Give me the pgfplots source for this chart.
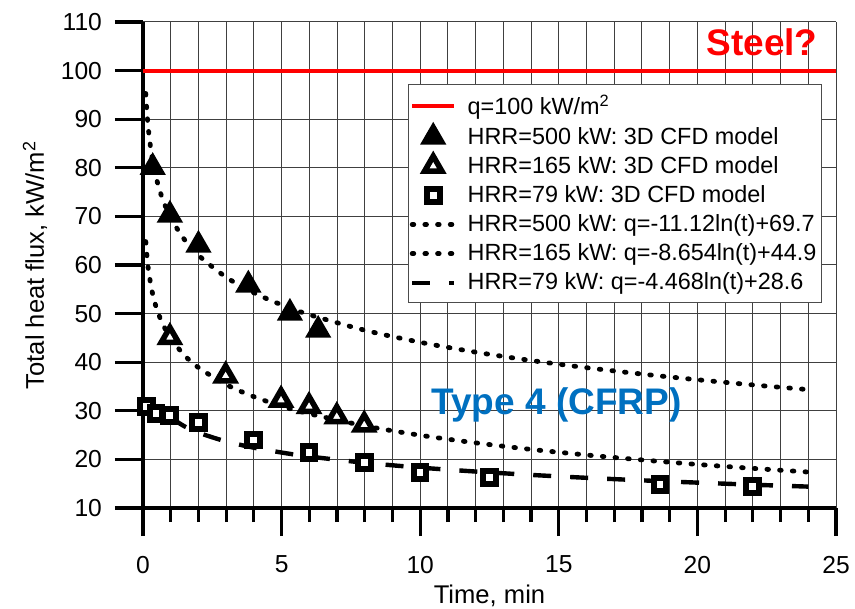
\documentclass[border=0pt]{standalone}
\usepackage{fontspec}
\setmainfont{Liberation Sans}
\usepackage{pgfplots}
\pgfplotsset{compat=1.18}
\definecolor{typeblue}{HTML}{0070C0}
\begin{document}
\begin{tikzpicture}
\useasboundingbox (-71.5pt,-50.5pt) rectangle (356pt,254pt);
\begin{axis}[
  scale only axis, width=346.5pt, height=243pt,
  xmin=0, xmax=25, ymin=10, ymax=110,
  enlargelimits=false,
  axis lines=left,
  axis line style={-, line width=1.6pt, black},
  xtick={0,5,...,25}, ytick={10,20,...,110},
  minor x tick num=4,
  grid=both,
  major grid style={black!75, line width=0.5pt},
  minor grid style={black!75, line width=0.5pt},
  tick align=outside,
  major tick length=14pt, minor tick length=7pt,
  every tick/.style={black, line width=1.6pt},
  /pgf/number format/assume math mode=true,
  tick label style={font=\fontsize{12.3}{14}\selectfont},
  yticklabel style={xshift=-3pt},
  xticklabel style={yshift=-6.5pt},
  xlabel={Time, min},
  ylabel={Total heat flux, kW/m\textsuperscript{2}},
  label style={font=\fontsize{12.8}{15}\selectfont},
  xlabel style={at={(axis description cs:0.5,0)}, anchor=center, yshift=-44pt},
  ylabel style={at={(axis description cs:0,0.5)}, anchor=center, yshift=54pt},
  legend style={at={(rel axis cs:0.9798,0.872)}, anchor=north east,
    draw=black!70, line width=0.5pt, fill=white,
    font=\fontsize{11.7}{13}\selectfont,
    row sep=0.6pt, inner xsep=0.5pt, inner ysep=3pt,
    /tikz/every odd column/.append style={column sep=3.5pt}},
  legend cell align=left,
  legend image code/.code={\draw[mark repeat=2,mark phase=2,#1] plot coordinates {(0cm,0cm) (0.37cm,0cm) (0.74cm,0cm)};},
  clip=false,
]
% legend images
\addlegendimage{red, line width=2pt}
\addlegendentry{q=100 kW/m\textsuperscript{2}}
\addlegendimage{only marks, mark=triangle*, mark size=6.8pt, black, line width=0.8pt, mark options={fill=black, line width=0.8pt}}
\addlegendentry{HRR=500 kW: 3D CFD model}
\addlegendimage{only marks, mark=triangle*, mark size=5pt, black, line width=2.8pt, mark options={fill=white, line width=2.8pt}}
\addlegendentry{HRR=165 kW: 3D CFD model}
\addlegendimage{only marks, mark=square*, mark size=3.2pt, black, line width=3pt, mark options={fill=white, line width=3pt}}
\addlegendentry{HRR=79 kW: 3D CFD model}
\addlegendimage{black, line width=2.4pt, line cap=round, dash pattern=on 0.8pt off 5.55pt}
\addlegendentry{HRR=500 kW: q=-11.12ln(t)+69.7}
\addlegendimage{black, line width=2.4pt, line cap=round, dash pattern=on 0.8pt off 5.55pt}
\addlegendentry{HRR=165 kW: q=-8.654ln(t)+44.9}
\addlegendimage{black, line width=2.2pt, dash pattern=on 9pt off 9.5pt}
\addlegendentry{HRR=79 kW: q=-4.468ln(t)+28.6}

% red line
\addplot[red, line width=2pt, forget plot] coordinates {(0,100) (25,100)};

% fitted curves
\addplot[black, line width=2.4pt, line cap=round, dash pattern=on 0.8pt off 5.55pt, forget plot, smooth] coordinates {
(0.1,95.30) (0.15,90.80) (0.2,87.60) (0.3,83.09) (0.4,79.89) (0.5,77.41) (0.7,73.67)
(1,69.70) (1.5,65.19) (2,61.99) (3,57.48) (4,54.28) (5,51.80) (6,49.78) (8,46.58)
(10,44.10) (12,42.07) (14,40.35) (16,38.87) (18,37.56) (20,36.39) (22,35.33) (24,34.36)};
\addplot[black, line width=2.4pt, line cap=round, dash pattern=on 0.8pt off 5.55pt, forget plot, smooth] coordinates {
(0.1,64.83) (0.15,61.32) (0.2,58.83) (0.3,55.32) (0.4,52.83) (0.5,50.90) (0.7,47.99)
(1,44.90) (1.5,41.39) (2,38.90) (3,35.39) (4,32.90) (5,30.97) (6,29.39) (8,26.90)
(10,24.97) (12,23.40) (14,22.06) (16,20.91) (18,19.89) (20,18.97) (22,18.15) (24,17.40)};
\addplot[black, line width=2.2pt, dash pattern=on 9pt off 9.5pt, forget plot, smooth] coordinates {
(1,28.60) (1.5,26.79) (2,25.50) (3,23.69) (4,22.41) (5,21.41) (6,20.59) (8,19.31)
(10,18.31) (12,17.50) (14,16.81) (16,16.21) (18,15.69) (20,15.22) (22,14.79) (24,14.40)};

% CFD points
\addplot[only marks, mark=triangle*, mark size=6.8pt, black, line width=0.8pt, mark options={fill=black, line width=0.8pt}, forget plot] coordinates {
(0.35,80.1) (0.97,70.3) (2.0,64.1) (3.8,55.9) (5.3,50.1) (6.32,46.6)};
\addplot[only marks, mark=triangle*, mark size=5pt, black, line width=2.8pt, mark options={fill=white, line width=2.8pt}, forget plot] coordinates {
(0.97,45.1) (2.98,37.2) (4.98,32.2) (5.99,30.9) (6.99,28.8) (7.98,27.1)};
\addplot[only marks, mark=square*, mark size=3.2pt, black, line width=3pt, mark options={fill=white, line width=3pt}, forget plot] coordinates {
(0.13,30.9) (0.47,29.5) (0.97,29.0) (2.0,27.6) (3.98,24.0) (5.99,21.5) (7.98,19.3)
(9.99,17.3) (12.49,16.3) (18.65,14.9) (22.0,14.5)};

\node[text=red, font=\fontsize{18.5}{20}\bfseries\selectfont] at (axis cs:22.33,105.9) {Steel?};
\node[text=typeblue, font=\fontsize{18.5}{20}\bfseries\selectfont] at (axis cs:14.92,31.2) {Type 4 (CFRP)};
\end{axis}
\end{tikzpicture}
\end{document}
